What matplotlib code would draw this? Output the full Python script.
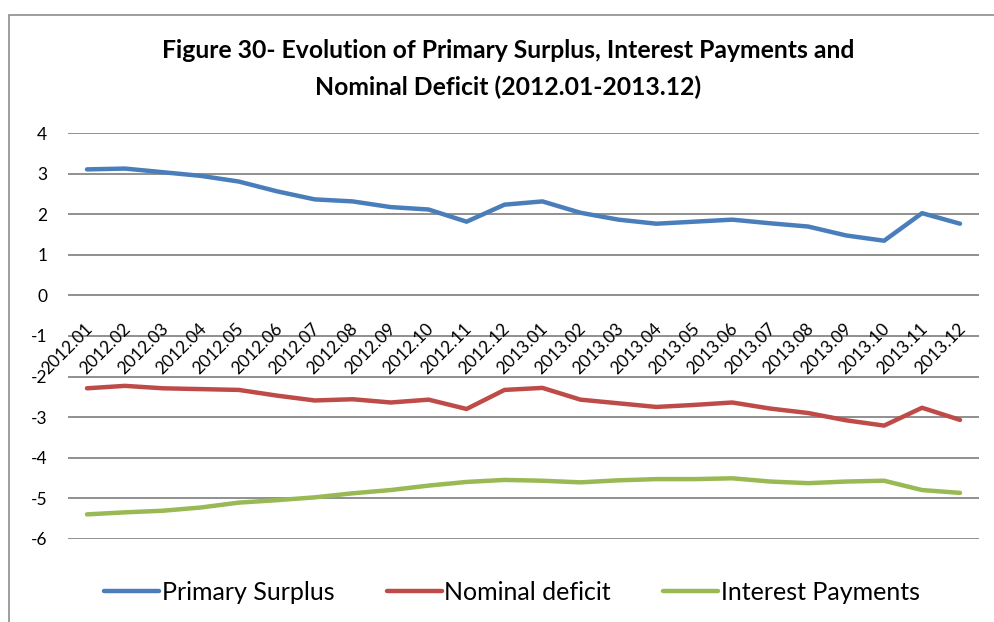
import matplotlib
matplotlib.use("Agg")
import matplotlib.pyplot as plt
from matplotlib.patches import Rectangle
import numpy as np

plt.rcParams["font.family"] = ["Lato", "DejaVu Sans"]

# data
months = ["2012.01", "2012.02", "2012.03", "2012.04", "2012.05", "2012.06",
          "2012.07", "2012.08", "2012.09", "2012.10", "2012.11", "2012.12",
          "2013.01", "2013.02", "2013.03", "2013.04", "2013.05", "2013.06",
          "2013.07", "2013.08", "2013.09", "2013.10", "2013.11", "2013.12"]
primary_surplus = [3.11, 3.13, 3.04, 2.95, 2.81, 2.57, 2.37, 2.32, 2.18, 2.12, 1.82, 2.24,
                   2.32, 2.04, 1.87, 1.77, 1.82, 1.87, 1.78, 1.70, 1.48, 1.35, 2.03, 1.77]
nominal_deficit = [-2.29, -2.23, -2.29, -2.31, -2.33, -2.47, -2.59, -2.56, -2.64, -2.57, -2.80, -2.33,
                   -2.28, -2.57, -2.66, -2.75, -2.70, -2.64, -2.79, -2.90, -3.08, -3.21, -2.77, -3.07]
interest_payments = [-5.40, -5.35, -5.31, -5.23, -5.11, -5.05, -4.98, -4.88, -4.80, -4.69, -4.60, -4.55,
                     -4.57, -4.61, -4.56, -4.53, -4.53, -4.51, -4.59, -4.63, -4.59, -4.57, -4.80, -4.87]
yticks = [4, 3, 2, 1, 0, -1, -2, -3, -4, -5, -6]

W, H = 995, 622
fig = plt.figure(figsize=(W / 100, H / 100), dpi=100)

# chart area border
fig.patches.append(Rectangle((9 / W, -0.1), 1.2, (H - 14.7) / H + 0.1,
                             transform=fig.transFigure, fill=False,
                             edgecolor="#8c8c8c", linewidth=1.2))

ax = fig.add_axes([68 / W, (H - 538.7) / H, 911 / W, 405.4 / H])
x = np.arange(len(months))
ax.plot(x, primary_surplus, color="#4A7EBB", lw=3.2, label="Primary Surplus", solid_capstyle="round")
ax.plot(x, nominal_deficit, color="#BE4B48", lw=3.2, label="Nominal deficit", solid_capstyle="round")
ax.plot(x, interest_payments, color="#98B954", lw=3.2, label="Interest Payments", solid_capstyle="round")

ax.set_xlim(-0.5, len(months) - 0.5)
ax.set_ylim(-6, 4)
ax.set_yticks(yticks)
ax.set_yticklabels([str(v) for v in yticks])
ax.tick_params(axis="y", length=0, pad=15, labelsize=12.5)
ax.set_xticks([])
ax.yaxis.grid(True, color="#878787", lw=1.3)
ax.set_axisbelow(True)
for s in ax.spines.values():
    s.set_visible(False)

# category labels next to the zero line
for i, m in enumerate(months):
    ax.annotate(m, (i, 0), xytext=(2, -22), textcoords="offset points",
                rotation=45, rotation_mode="anchor", ha="right", va="center",
                fontsize=12.5)

fig.text(508 / W, 1 - 50 / H, "Figure 30- Evolution of Primary Surplus, Interest Payments and",
         ha="center", va="center", fontsize=17.8, fontweight="bold")
fig.text(508 / W, 1 - 87 / H, "Nominal Deficit (2012.01-2013.12)",
         ha="center", va="center", fontsize=17.8, fontweight="bold")

fig.legend(loc="center", bbox_to_anchor=(512 / W, 1 - 592 / H), ncol=3, frameon=False,
           fontsize=18, handlelength=2.2, handletextpad=0.1, columnspacing=2.1)

fig.savefig("out.png", dpi=100)
